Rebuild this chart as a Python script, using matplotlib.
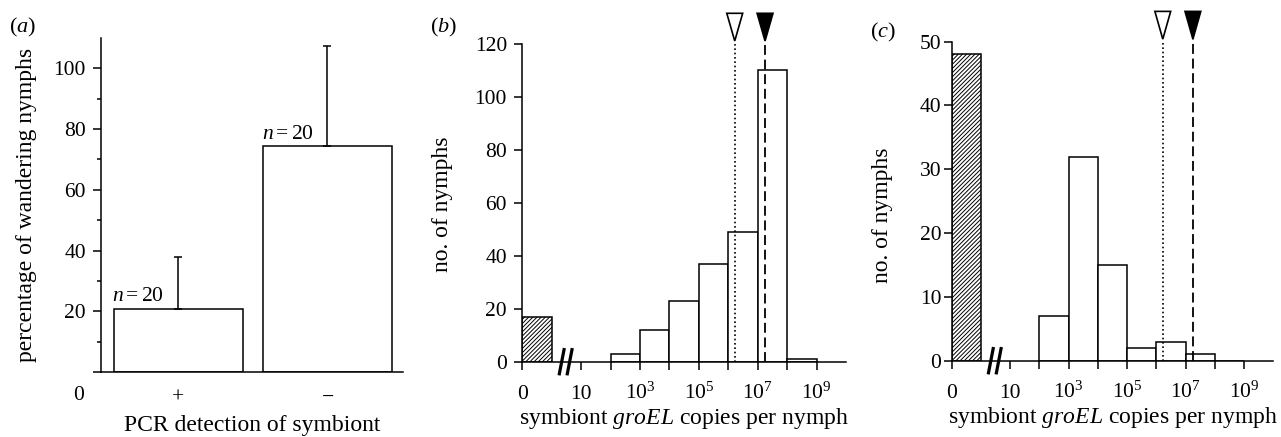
import numpy as np
import matplotlib
matplotlib.use('Agg')
import matplotlib.pyplot as plt

plt.rcParams['font.family'] = ['Liberation Serif', 'DejaVu Serif']
plt.rcParams['mathtext.fontset'] = 'custom'
plt.rcParams['mathtext.rm'] = 'Liberation Serif'
plt.rcParams['mathtext.it'] = 'Liberation Serif:italic'
plt.rcParams['hatch.linewidth'] = 0.7
plt.rcParams['axes.linewidth'] = 1.1

# panel (a): wandering nymphs vs PCR result
pcr_groups = ['+', '\u2212']
wander_pct = [20.8, 74.3]
wander_err = [17.2, 33.2]
group_n = [20, 20]

# panels (b), (c): histogram over log10(groEL copies), one bin per decade
bin_log_lo = [2, 3, 4, 5, 6, 7, 8]
counts_b = [3, 12, 23, 37, 49, 110, 1]
counts_c = [7, 32, 15, 2, 3, 1, 0]
zero_b = 17   # nymphs with no detectable copies
zero_c = 48
mark_open = 6.22    # log10 copies, open triangle / dotted line
mark_filled = 7.25  # log10 copies, filled triangle / dashed line
xtick_pos = [-1, 1, 3, 5, 7, 9]
xtick_lab = ['0', '10', '$10^3$', '$10^5$', '$10^7$', '$10^9$']

FS = 15.5     # tick labels
LFS = 17      # axis labels
LW = 1.1

fig = plt.figure(figsize=(12.81, 4.37), dpi=100)

# ---------- (a) ----------
ax = fig.add_axes([0.0788, 0.1487, 0.2358, 0.7643])
xpos = np.arange(len(pcr_groups))
w = 0.865
ax.bar(xpos, wander_pct, width=w, facecolor='white', edgecolor='black', lw=LW, zorder=2)
ax.errorbar(xpos, wander_pct, yerr=[np.zeros(len(xpos)), wander_err], fmt='none',
            ecolor='black', elinewidth=LW, capsize=3.2, capthick=LW, zorder=3)
for x, v, n in zip(xpos, wander_pct, group_n):
    ax.text(x - w / 2 - 0.01, v + 0.8, '$n=%d$' % n, ha='left', va='bottom', fontsize=FS)
ax.set_xlim(-0.52, 1.507)
ax.set_ylim(0, 110)
ax.spines['top'].set_visible(False)
ax.spines['right'].set_visible(False)
ax.set_yticks(range(0, 101, 20), [''] + [str(v) for v in range(20, 101, 20)])
ax.set_yticks(range(10, 100, 20), minor=True)
ax.tick_params(axis='y', which='major', direction='out', length=5.8, width=LW, labelsize=FS, pad=5)
ax.tick_params(axis='y', which='minor', direction='out', length=3, width=LW)
ax.set_xticks(xpos, pcr_groups)
ax.tick_params(axis='x', length=0, labelsize=FS, pad=12)
ax.text(-0.073, -0.069, '0', transform=ax.transAxes, ha='center', va='center', fontsize=FS)
ax.set_xlabel('PCR detection of symbiont', fontsize=LFS, labelpad=5)
ax.set_ylabel('percentage of wandering nymphs', fontsize=LFS)
ax.yaxis.set_label_coords(-0.212, 0.5)
ax.text(-0.258, 1.033, '($a$)', transform=ax.transAxes, ha='center', va='center', fontsize=16)


# ---------- (b), (c) ----------
def hist_panel(ax, zero, counts, ymax, ystep, ypad, tag, tagpos, ylab_pos):
    ax.bar(-1, zero, width=1, align='edge', facecolor='white', edgecolor='black',
           hatch='////////', lw=LW, zorder=2)
    ax.bar(bin_log_lo, counts, width=1, align='edge', facecolor='white',
           edgecolor='black', lw=LW, zorder=2)
    ax.set_xlim(-1, 10)
    ax.set_ylim(0, ymax)
    ax.spines['top'].set_visible(False)
    ax.spines['right'].set_visible(False)
    ax.set_yticks(range(0, ymax + 1, ystep))
    ax.set_xticks(xtick_pos, xtick_lab)
    ax.set_xticks([2, 4, 6, 8], minor=True)
    ax.tick_params(axis='both', which='both', direction='out', length=6, width=LW,
                   labelsize=FS)
    ax.tick_params(axis='x', which='major', pad=20.5)
    for lbl in ax.get_xticklabels():
        lbl.set_verticalalignment('baseline')
    ax.tick_params(axis='y', which='major', pad=ypad)
    tr = ax.get_xaxis_transform()
    # axis break marks
    for c in (0.34, 0.61):
        ax.plot([c - 0.08, c + 0.08], [-0.038, 0.038], color='black', lw=2.3,
                transform=tr, clip_on=False, zorder=6)
    # reference lines with triangles
    ax.plot([mark_open, mark_open], [0, 1.0], color='black', lw=1.2, ls=(0, (1, 1.6)),
            transform=tr, clip_on=False, zorder=4)
    ax.plot([mark_filled, mark_filled], [0, 1.008], color='black', lw=1.3,
            dashes=(5.5, 2.6), transform=tr, clip_on=False, zorder=4)
    for u, fc in ((mark_open, 'white'), (mark_filled, 'black')):
        ax.fill([u - 0.27, u + 0.27, u], [1.095, 1.095, 1.008], facecolor=fc,
                edgecolor='black', lw=1.2, transform=tr, clip_on=False, zorder=5)
    ax.set_xlabel('symbiont $\\mathit{groEL}$ copies per nymph', fontsize=LFS, labelpad=2)
    ax.set_ylabel('no. of nymphs', fontsize=LFS)
    ax.yaxis.set_label_coords(*ylab_pos)
    ax.text(tagpos[0], tagpos[1], tag, transform=ax.transAxes, ha='center',
            va='center', fontsize=16)


axb = fig.add_axes([0.4077, 0.1723, 0.2527, 0.7281])
hist_panel(axb, zero_b, counts_b, 120, 20, 5, '($b$)', (-0.244, 1.05), (-0.214, 0.494))

axc = fig.add_axes([0.7429, 0.1746, 0.2511, 0.730])
hist_panel(axc, zero_c, counts_c, 50, 10, 1.5, '($c$)', (-0.215, 1.03), (-0.183, 0.457))

fig.savefig('out.png', dpi=100)
